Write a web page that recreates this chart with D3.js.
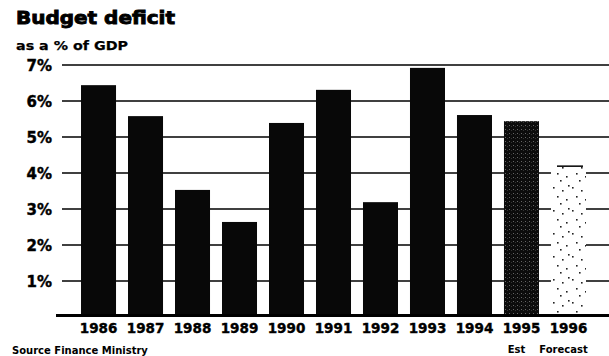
<!DOCTYPE html>
<html><head><meta charset="utf-8">
<script src="https://cdn.jsdelivr.net/npm/d3@7"></script>
<style>
html,body{margin:0;padding:0;background:#fff;}
svg{display:block;}
text{font-family:"DejaVu Sans","Liberation Sans",Arial,sans-serif;font-weight:700;fill:#000;}
</style></head>
<body>
<svg id="chart" width="609" height="356"></svg>
<script>
const years = ["1986","1987","1988","1989","1990","1991","1992","1993","1994","1995","1996"];
const deficit = [6.44,5.58,3.53,2.64,5.39,6.31,3.19,6.92,5.61,5.44,4.19];
const yTicks = [1,2,3,4,5,6,7];
const yTickLabels = ["1%","2%","3%","4%","5%","6%","7%"];
const notes = {"1995":"Est","1996":"Forecast"};
const kinds = ["actual","actual","actual","actual","actual","actual","actual","actual","actual","est","forecast"];

const svg = d3.select("#chart");
const x = d3.scaleBand().domain(years).range([75, 592]).paddingInner(0.255).paddingOuter(0.128);
const y = d3.scaleLinear().domain([0,7]).range([317,65]);

const defs = svg.append("defs");
const pEst = defs.append("pattern").attr("id","est").attr("patternUnits","userSpaceOnUse").attr("width",4).attr("height",4);
pEst.append("rect").attr("width",4).attr("height",4).attr("fill","#0c0c0c");
pEst.append("rect").attr("x",1).attr("y",1).attr("width",1).attr("height",1).attr("fill","#666");
pEst.append("rect").attr("x",3).attr("y",2).attr("width",1).attr("height",1).attr("fill","#333");
const pFc = defs.append("pattern").attr("id","fc").attr("patternUnits","userSpaceOnUse").attr("width",19).attr("height",23);
pFc.append("rect").attr("width",19).attr("height",23).attr("fill","#fff");
const fcDots = [[2,3],[11,6],[15,15],[6,12],[9,19],[17,1]];
fcDots.forEach(p=>pFc.append("rect").attr("x",p[0]).attr("y",p[1]).attr("width",1.6).attr("height",1.6).attr("fill","#222"));

// title
svg.append("text").attr("x",16).attr("y",24).attr("font-size",18)
  .attr("stroke","#000").attr("stroke-width",0.9)
  .attr("textLength",159).attr("lengthAdjust","spacingAndGlyphs").text("Budget deficit");
svg.append("text").attr("x",16).attr("y",49.5).attr("font-size",13)
  .attr("stroke","#000").attr("stroke-width",0.25)
  .attr("textLength",112).attr("lengthAdjust","spacingAndGlyphs").text("as a % of GDP");

// y axis labels
const yAxis = d3.axisLeft(y).tickValues(yTicks).tickFormat((d,i)=>yTickLabels[i]).tickSize(0).tickPadding(0);
const gy = svg.append("g").attr("transform","translate(52,0)").call(yAxis);
gy.select(".domain").remove();
gy.selectAll("text").attr("font-size",15).attr("dy","0.38em")
  .attr("stroke","#000").attr("stroke-width",0.4)
  .attr("font-family","'DejaVu Sans', 'Liberation Sans', Arial, sans-serif").attr("font-weight",700);

// gridlines
svg.append("g").selectAll("line").data(yTicks).join("line")
  .attr("x1",62).attr("x2",609).attr("y1",d=>y(d)).attr("y2",d=>y(d))
  .attr("stroke","#000").attr("stroke-width",1.5);

// bars
svg.append("g").selectAll("rect").data(years).join("rect")
  .attr("x",d=>x(d)).attr("width",x.bandwidth())
  .attr("y",(d,i)=>y(deficit[i])).attr("height",(d,i)=>y(0)-y(deficit[i]))
  .attr("fill",(d,i)=>kinds[i]==="actual"?"#080808":(kinds[i]==="est"?"url(#est)":"url(#fc)"));

// forecast top edge
svg.append("g").selectAll("line").data(years.filter((d,i)=>kinds[i]==="forecast")).join("line")
  .attr("x1",d=>x(d)+6).attr("x2",d=>x(d)+x.bandwidth()-3)
  .attr("y1",d=>y(deficit[years.indexOf(d)])).attr("y2",d=>y(deficit[years.indexOf(d)]))
  .attr("stroke","#000").attr("stroke-width",1.5);

// baseline
svg.append("line").attr("x1",56).attr("x2",609).attr("y1",y(0)-1.5).attr("y2",y(0)-1.5)
  .attr("stroke","#000").attr("stroke-width",3);

// x axis labels
const xAxis = d3.axisBottom(x).tickSize(0).tickPadding(0);
const gx = svg.append("g").attr("transform","translate(0,333)").call(xAxis);
gx.select(".domain").remove();
gx.selectAll("text").attr("font-size",13.5).attr("dy","0")
  .attr("stroke","#000").attr("stroke-width",0.4)
  .attr("font-family","'DejaVu Sans', 'Liberation Sans', Arial, sans-serif").attr("font-weight",700);

// notes
svg.append("g").selectAll("text").data(Object.keys(notes)).join("text")
  .attr("x",d=>x(d)+x.bandwidth()/2-5).attr("y",353).attr("text-anchor","middle")
  .attr("font-size",10)
  .text(d=>notes[d]);

svg.append("text").attr("x",12).attr("y",354).attr("font-size",10).text("Source  Finance Ministry");
</script>
</body></html>
